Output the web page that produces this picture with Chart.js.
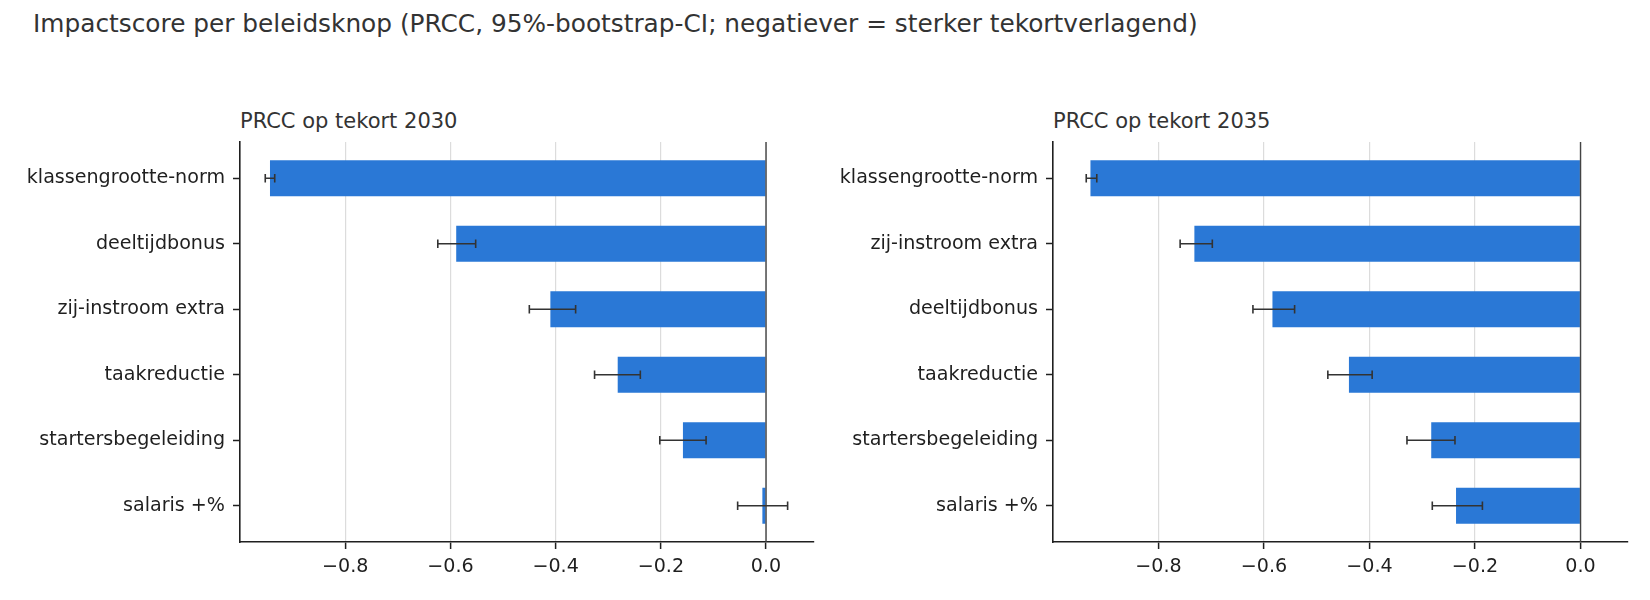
<!DOCTYPE html>
<html>
<head>
<meta charset="utf-8">
<script src="https://cdn.jsdelivr.net/npm/chart.js@4.4.1/dist/chart.umd.min.js"></script>
<style>
  body { margin: 0; background: #fff; }
  #page { position: relative; width: 1650px; height: 600px; overflow: hidden; font-family: "DejaVu Sans", sans-serif; }
  .title { position: absolute; white-space: nowrap; color: #333; line-height: normal; }
  canvas { position: absolute; top: 0; }
</style>
</head>
<body>
<div id="page">
  <div class="title" style="left:33px; top:8.5px; font-size:24.8px;">Impactscore per beleidsknop (PRCC, 95%-bootstrap-CI; negatiever = sterker tekortverlagend)</div>
  <div class="title" style="left:240px; top:109px; font-size:21px;">PRCC op tekort 2030</div>
  <div class="title" style="left:1053px; top:109px; font-size:21px;">PRCC op tekort 2035</div>
  <canvas id="chart2030" width="840" height="600" style="left:0px"></canvas>
  <canvas id="chart2035" width="830" height="600" style="left:820px"></canvas>
</div>
<script>
// data
const names2030 = ["klassengrootte-norm", "deeltijdbonus", "zij-instroom extra", "taakreductie", "startersbegeleiding", "salaris +%"];
const prcc2030 = [-0.943, -0.589, -0.410, -0.282, -0.158, -0.007];
const lo2030 = [-0.952, -0.624, -0.450, -0.326, -0.202, -0.054];
const hi2030 = [-0.934, -0.552, -0.362, -0.239, -0.114, 0.041];

const names2035 = ["klassengrootte-norm", "zij-instroom extra", "deeltijdbonus", "taakreductie", "startersbegeleiding", "salaris +%"];
const prcc2035 = [-0.929, -0.732, -0.584, -0.439, -0.283, -0.236];
const lo2035 = [-0.937, -0.759, -0.621, -0.479, -0.329, -0.281];
const hi2035 = [-0.917, -0.698, -0.542, -0.395, -0.238, -0.186];

const xTicks = [-0.8, -0.6, -0.4, -0.2, 0.0];

const BAR_COLOR = "#2a78d6";
const INK = "#1f1f1f";
const FONT = { family: "DejaVu Sans", size: 19.1 };

function fmtTick(v) {
  return v.toFixed(1).replace("-", "\u2212");
}

// error bars + zero line on top of the bars
const errBars = {
  id: "errbars",
  afterDatasetsDraw(chart, args, opts) {
    const ctx = chart.ctx;
    const x = chart.scales.x;
    const y = chart.scales.y;
    const area = chart.chartArea;

    ctx.save();
    ctx.strokeStyle = "#444";
    ctx.lineWidth = 1.4;
    const x0 = x.getPixelForValue(0);
    ctx.beginPath();
    ctx.moveTo(x0, area.top);
    ctx.lineTo(x0, area.bottom);
    ctx.stroke();

    ctx.strokeStyle = "#333";
    ctx.lineWidth = 1.6;
    opts.lo.forEach((l, i) => {
      const py = y.getPixelForValue(i);
      const a = x.getPixelForValue(l);
      const b = x.getPixelForValue(opts.hi[i]);
      ctx.beginPath();
      ctx.moveTo(a, py); ctx.lineTo(b, py);
      ctx.moveTo(a, py - 4.2); ctx.lineTo(a, py + 4.2);
      ctx.moveTo(b, py - 4.2); ctx.lineTo(b, py + 4.2);
      ctx.stroke();
    });
    ctx.restore();
  }
};

function makeChart(id, names, values, lo, hi, axisWidth, rightPad) {
  return new Chart(document.getElementById(id), {
    type: "bar",
    data: {
      datasets: [{
        data: values.map((v, i) => ({ x: v, y: i })),
        backgroundColor: BAR_COLOR,
        borderWidth: 0,
        barPercentage: 0.55,
        categoryPercentage: 1
      }]
    },
    plugins: [errBars],
    options: {
      indexAxis: "y",
      responsive: false,
      animation: false,
      layout: { padding: { top: 142, right: rightPad, bottom: 0, left: 0 } },
      plugins: {
        legend: { display: false },
        tooltip: { enabled: false },
        errbars: { lo: lo, hi: hi }
      },
      scales: {
        x: {
          type: "linear",
          min: -1.0,
          max: 0.09,
          afterBuildTicks: s => { s.ticks = xTicks.map(v => ({ value: v })); },
          afterFit: s => { s.height = 58; },
          ticks: { callback: v => fmtTick(v), font: FONT, color: INK, padding: 7, maxRotation: 0, autoSkip: false },
          grid: { color: "#dcdcdc", lineWidth: 1.2, tickColor: INK, tickLength: 7, tickWidth: 1.5 },
          border: { color: INK, width: 1.6 }
        },
        y: {
          type: "linear",
          reverse: true,
          offset: false,
          min: -0.5525,
          max: 5.5525,
          afterBuildTicks: s => { s.ticks = names.map((n, i) => ({ value: i })); },
          afterFit: s => { s.width = axisWidth; },
          ticks: { callback: v => names[v], font: FONT, color: INK, padding: 8, autoSkip: false },
          grid: { offset: false, drawOnChartArea: false, tickColor: INK, tickLength: 7, tickWidth: 1.5 },
          border: { color: INK, width: 1.6 }
        }
      }
    }
  });
}

makeChart("chart2030", names2030, prcc2030, lo2030, hi2030, 240, 26.6);
makeChart("chart2035", names2035, prcc2035, lo2035, hi2035, 233, 22);
</script>
</body>
</html>
